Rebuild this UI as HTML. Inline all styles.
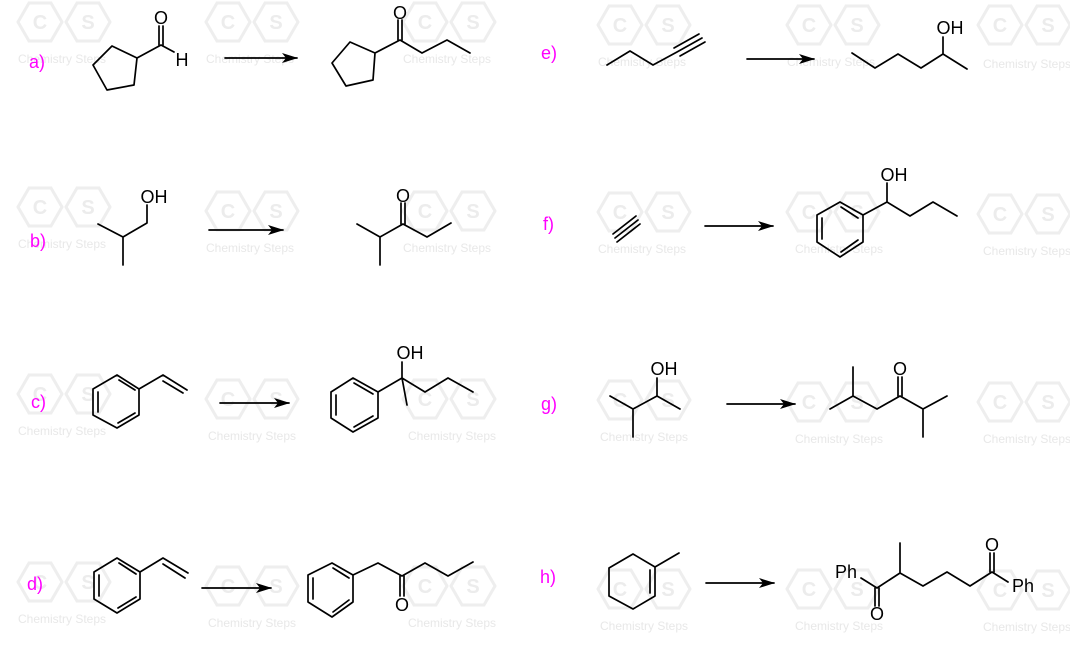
<!DOCTYPE html>
<html><head><meta charset="utf-8"><style>
html,body{margin:0;padding:0;background:#fff;}
svg{display:block;}
.b{stroke:#000;stroke-width:1.7;fill:none;stroke-linecap:round;stroke-linejoin:round;}
.t{font-family:"Liberation Sans",sans-serif;font-size:18px;fill:#000;}
.l{font-family:"Liberation Sans",sans-serif;font-size:18px;fill:#ff00ff;}
.wh{fill:none;stroke:#eeeeee;stroke-width:3;}
.wl{font-family:"Liberation Sans",sans-serif;font-size:20px;font-weight:bold;fill:#ececec;text-anchor:middle;}
.wt{font-family:"Liberation Sans",sans-serif;font-size:12px;fill:#e8e8e8;}
</style></head><body>
<svg width="1070" height="646" viewBox="0 0 1070 646" xmlns="http://www.w3.org/2000/svg">
<defs>
<g id="hx"><polygon class="wh" points="-22,0 -11,-19 11,-19 22,0 11,19 -11,19"/><polygon class="wh" points="26,0 37,-19 59,-19 70,0 59,19 37,19"/></g>
<marker id="ah" markerWidth="16" markerHeight="10" refX="15" refY="5" orient="auto" markerUnits="userSpaceOnUse"><path d="M0,0 L16,5 L0,10 L4,5 z" fill="#000"/></marker>
</defs>
<g>
<use href="#hx" x="40" y="22"/><text class="wl" x="40" y="29">C</text><text class="wl" x="88" y="29">S</text><text class="wt" x="18" y="63">Chemistry Steps</text>
<use href="#hx" x="228" y="22"/><text class="wl" x="228" y="29">C</text><text class="wl" x="276" y="29">S</text><text class="wt" x="206" y="63">Chemistry Steps</text>
<use href="#hx" x="425" y="22"/><text class="wl" x="425" y="29">C</text><text class="wl" x="473" y="29">S</text><text class="wt" x="403" y="63">Chemistry Steps</text>
<use href="#hx" x="620" y="25"/><text class="wl" x="620" y="32">C</text><text class="wl" x="668" y="32">S</text><text class="wt" x="598" y="66">Chemistry Steps</text>
<use href="#hx" x="809" y="25"/><text class="wl" x="809" y="32">C</text><text class="wl" x="857" y="32">S</text><text class="wt" x="787" y="66">Chemistry Steps</text>
<use href="#hx" x="1000" y="25"/><text class="wl" x="1000" y="32">C</text><text class="wl" x="1048" y="32">S</text><text class="wt" x="983" y="68">Chemistry Steps</text>

<use href="#hx" x="40" y="207"/><text class="wl" x="40" y="214">C</text><text class="wl" x="88" y="214">S</text><text class="wt" x="18" y="248">Chemistry Steps</text>
<use href="#hx" x="228" y="211"/><text class="wl" x="228" y="218">C</text><text class="wl" x="276" y="218">S</text><text class="wt" x="206" y="252">Chemistry Steps</text>
<use href="#hx" x="425" y="211"/><text class="wl" x="425" y="218">C</text><text class="wl" x="473" y="218">S</text><text class="wt" x="403" y="252">Chemistry Steps</text>
<use href="#hx" x="620" y="212"/><text class="wl" x="620" y="219">C</text><text class="wl" x="668" y="219">S</text><text class="wt" x="598" y="253">Chemistry Steps</text>
<use href="#hx" x="809" y="212"/><text class="wl" x="809" y="219">C</text><text class="wl" x="857" y="219">S</text><text class="wt" x="795" y="253">Chemistry Steps</text>
<use href="#hx" x="1000" y="214"/><text class="wl" x="1000" y="221">C</text><text class="wl" x="1048" y="221">S</text><text class="wt" x="983" y="255">Chemistry Steps</text>

<use href="#hx" x="40" y="394"/><text class="wl" x="40" y="401">C</text><text class="wl" x="88" y="401">S</text><text class="wt" x="18" y="435">Chemistry Steps</text>
<use href="#hx" x="228" y="399"/><text class="wl" x="228" y="406">C</text><text class="wl" x="276" y="406">S</text><text class="wt" x="208" y="440">Chemistry Steps</text>
<use href="#hx" x="425" y="399"/><text class="wl" x="425" y="406">C</text><text class="wl" x="473" y="406">S</text><text class="wt" x="408" y="440">Chemistry Steps</text>
<use href="#hx" x="620" y="400"/><text class="wl" x="620" y="407">C</text><text class="wl" x="668" y="407">S</text><text class="wt" x="600" y="441">Chemistry Steps</text>
<use href="#hx" x="809" y="402"/><text class="wl" x="809" y="409">C</text><text class="wl" x="857" y="409">S</text><text class="wt" x="795" y="443">Chemistry Steps</text>
<use href="#hx" x="1000" y="402"/><text class="wl" x="1000" y="409">C</text><text class="wl" x="1048" y="409">S</text><text class="wt" x="983" y="443">Chemistry Steps</text>

<use href="#hx" x="40" y="582"/><text class="wl" x="40" y="589">C</text><text class="wl" x="88" y="589">S</text><text class="wt" x="18" y="623">Chemistry Steps</text>
<use href="#hx" x="228" y="586"/><text class="wl" x="228" y="593">C</text><text class="wl" x="276" y="593">S</text><text class="wt" x="208" y="627">Chemistry Steps</text>
<use href="#hx" x="425" y="586"/><text class="wl" x="425" y="593">C</text><text class="wl" x="473" y="593">S</text><text class="wt" x="408" y="627">Chemistry Steps</text>
<use href="#hx" x="620" y="589"/><text class="wl" x="620" y="596">C</text><text class="wl" x="668" y="596">S</text><text class="wt" x="600" y="630">Chemistry Steps</text>
<use href="#hx" x="809" y="589"/><text class="wl" x="809" y="596">C</text><text class="wl" x="857" y="596">S</text><text class="wt" x="795" y="630">Chemistry Steps</text>
<use href="#hx" x="1000" y="590"/><text class="wl" x="1000" y="597">C</text><text class="wl" x="1048" y="597">S</text><text class="wt" x="983" y="631">Chemistry Steps</text>
</g>

<text class="l" x="29" y="68">a)</text>
<text class="l" x="30" y="247">b)</text>
<text class="l" x="31" y="408">c)</text>
<text class="l" x="27" y="590">d)</text>
<text class="l" x="541" y="59">e)</text>
<text class="l" x="543" y="230">f)</text>
<text class="l" x="541" y="410">g)</text>
<text class="l" x="540" y="583">h)</text>

<g class="b">
<line x1="225" y1="58" x2="297" y2="58" marker-end="url(#ah)"/>
<line x1="209" y1="230" x2="283" y2="230" marker-end="url(#ah)"/>
<line x1="220" y1="403" x2="289" y2="403" marker-end="url(#ah)"/>
<line x1="202" y1="588" x2="271" y2="588" marker-end="url(#ah)"/>
<line x1="747" y1="59" x2="814" y2="59" marker-end="url(#ah)"/>
<line x1="705" y1="226" x2="773" y2="226" marker-end="url(#ah)"/>
<line x1="727" y1="404" x2="795" y2="404" marker-end="url(#ah)"/>
<line x1="706" y1="583" x2="774" y2="583" marker-end="url(#ah)"/>
</g>

<path class="b" d="M112,46 L137,58 L134,85 L107,90 L93,65 Z M137,58 L161,45 L174,52"/>
<path class="b" d="M159,45 L159,26 M163,45 L163,26"/>
<text class="t" x="161" y="24" text-anchor="middle">O</text>
<text class="t" x="182" y="66" text-anchor="middle">H</text>
<path class="b" d="M350,42 L375,53 L373,80 L346,86 L332,63 Z M375,53 L400,40 L422,53 L447,40 L470,53"/>
<path class="b" d="M398,40 L398,20 M402,40 L402,20"/>
<text class="t" x="400" y="19" text-anchor="middle">O</text>

<path class="b" d="M98,224 L123,237 L123,265 M123,237 L147,223 L147,205"/>
<text class="t" x="154" y="203" text-anchor="middle">OH</text>
<path class="b" d="M357,224 L380,237 L380,265 M380,237 L403,224 L427,237 L451,223"/>
<path class="b" d="M401,224 L401,203 M405,224 L405,203"/>
<text class="t" x="403" y="202" text-anchor="middle">O</text>

<path class="b" d="M117,375 L139,389 L139,415 L117,428 L93,415 L93,389 Z M139,389 L163,375 L187,390"/>
<path class="b" d="M98,392 L98,412 M119,380 L135,390 M118,423 L135,413 M163,381 L183,393"/>
<path class="b" d="M353,378 L378,392 L378,418 L353,432 L331,418 L331,392 Z M378,392 L402,378 L402,362 M402,378 L407,405 M402,378 L425,392 L448,378 L473,392"/>
<path class="b" d="M336,395 L336,415 M354,383 L373,394 M354,427 L373,416"/>
<text class="t" x="410" y="359" text-anchor="middle">OH</text>

<path class="b" d="M117,558 L140,572 L140,599 L117,613 L94,599 L94,572 Z M140,572 L163,558 L188,573"/>
<path class="b" d="M99,575 L99,596 M119,563 L136,574 M118,608 L136,597 M163,564 L185,578"/>
<path class="b" d="M332,563 L353,575 L353,602 L332,617 L308,602 L308,575 Z M353,575 L378,563 L402,576 L425,563 L448,576 L473,562"/>
<path class="b" d="M313,578 L313,599 M333,568 L349,578 M333,612 L349,600"/>
<path class="b" d="M400,576 L400,596 M404,576 L404,596"/>
<text class="t" x="402" y="611" text-anchor="middle">O</text>

<path class="b" d="M607,65 L630,51 L653,65 L677,52 L702,38"/>
<path class="b" d="M674,48 L699,34 M680,56 L705,42"/>
<path class="b" d="M852,53 L875,68 L898,54 L921,68 L943,54 L967,69 M943,54 L943,37"/>
<text class="t" x="950" y="34" text-anchor="middle">OH</text>

<path class="b" d="M615,238 L638,220 M613,234 L636,216 M617,242 L640,224"/>
<path class="b" d="M840,202 L863,215 L863,242 L840,257 L817,242 L817,215 Z M863,215 L887,202 L887,183 M887,202 L910,216 L933,202 L957,216"/>
<path class="b" d="M822,218 L822,239 M841,207 L858,218 M841,252 L858,240"/>
<text class="t" x="894" y="181" text-anchor="middle">OH</text>

<path class="b" d="M610,396 L633,409 L633,437 M633,409 L657,396 L657,378 M657,396 L680,409"/>
<text class="t" x="664" y="375" text-anchor="middle">OH</text>
<path class="b" d="M830,409 L853,396 L853,367 M853,396 L877,409 L900,396 L923,409 L923,437 M923,409 L947,396"/>
<path class="b" d="M898,396 L898,377 M902,396 L902,377"/>
<text class="t" x="900" y="375" text-anchor="middle">O</text>

<path class="b" d="M633,554 L655,567 L655,596 L633,609 L609,596 L609,568 Z M655,567 L679,553"/>
<path class="b" d="M650,570 L650,593"/>
<text class="t" x="846" y="578" text-anchor="middle">Ph</text>
<path class="b" d="M861,578 L877,588 L900,573 L900,543 M900,573 L923,586 L947,572 L970,586 L992,572 L1008,582"/>
<path class="b" d="M875,588 L875,606 M879,588 L879,606 M990,572 L990,553 M994,572 L994,553"/>
<text class="t" x="877" y="620" text-anchor="middle">O</text>
<text class="t" x="992" y="551" text-anchor="middle">O</text>
<text class="t" x="1023" y="592" text-anchor="middle">Ph</text>
</svg>
</body></html>
